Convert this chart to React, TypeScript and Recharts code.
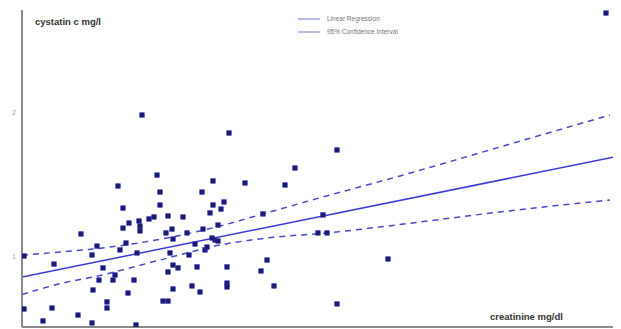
import React from 'react';
import { ComposedChart, Scatter, Line, XAxis, YAxis } from 'recharts';

// creatinine (mg/dl) vs cystatin c (mg/l)
const patients = [
  { x: 0.41, y: 1.007 }, { x: 0.56, y: 0.951 }, { x: 0.41, y: 0.639 }, { x: 0.55, y: 0.646 },
  { x: 0.505, y: 0.556 }, { x: 0.68, y: 0.597 }, { x: 0.75, y: 0.542 }, { x: 0.97, y: 0.528 },
  { x: 0.695, y: 1.16 }, { x: 0.775, y: 1.076 }, { x: 0.75, y: 1.014 }, { x: 0.88, y: 1.493 },
  { x: 0.905, y: 1.34 }, { x: 1.0, y: 1.986 }, { x: 1.075, y: 1.569 }, { x: 1.09, y: 1.451 },
  { x: 1.09, y: 1.361 }, { x: 1.3, y: 1.451 }, { x: 1.355, y: 1.528 }, { x: 1.355, y: 1.361 },
  { x: 1.34, y: 1.306 }, { x: 1.41, y: 1.382 }, { x: 1.395, y: 1.333 }, { x: 0.905, y: 1.201 },
  { x: 0.935, y: 1.236 }, { x: 0.985, y: 1.25 }, { x: 0.99, y: 1.215 }, { x: 0.99, y: 1.181 },
  { x: 1.035, y: 1.264 }, { x: 1.06, y: 1.278 }, { x: 1.13, y: 1.285 }, { x: 1.205, y: 1.278 },
  { x: 1.15, y: 1.194 }, { x: 1.12, y: 1.167 }, { x: 1.155, y: 1.125 }, { x: 0.92, y: 1.097 },
  { x: 0.89, y: 1.049 }, { x: 0.975, y: 1.028 }, { x: 1.14, y: 1.028 }, { x: 1.235, y: 1.014 },
  { x: 1.265, y: 1.09 }, { x: 1.305, y: 1.194 }, { x: 1.315, y: 1.049 }, { x: 1.325, y: 1.069 },
  { x: 1.365, y: 1.118 }, { x: 1.35, y: 1.132 }, { x: 1.38, y: 1.111 }, { x: 1.38, y: 1.222 },
  { x: 0.805, y: 0.924 }, { x: 0.865, y: 0.875 }, { x: 0.855, y: 0.84 }, { x: 0.785, y: 0.84 },
  { x: 0.96, y: 0.84 }, { x: 1.13, y: 0.896 }, { x: 1.155, y: 0.944 }, { x: 1.18, y: 0.924 },
  { x: 1.275, y: 0.931 }, { x: 0.755, y: 0.771 }, { x: 0.93, y: 0.75 }, { x: 1.155, y: 0.778 },
  { x: 1.25, y: 0.799 }, { x: 1.29, y: 0.757 }, { x: 0.825, y: 0.688 }, { x: 0.825, y: 0.646 },
  { x: 1.105, y: 0.694 }, { x: 1.13, y: 0.694 }, { x: 1.435, y: 1.861 }, { x: 1.975, y: 1.743 },
  { x: 1.765, y: 1.618 }, { x: 1.515, y: 1.514 }, { x: 1.715, y: 1.5 }, { x: 1.605, y: 1.299 },
  { x: 1.905, y: 1.292 }, { x: 1.88, y: 1.167 }, { x: 1.925, y: 1.167 }, { x: 1.625, y: 0.979 },
  { x: 2.23, y: 0.986 }, { x: 1.425, y: 0.931 }, { x: 1.595, y: 0.903 }, { x: 1.425, y: 0.819 },
  { x: 1.425, y: 0.792 }, { x: 1.66, y: 0.799 }, { x: 1.975, y: 0.674 }, { x: 3.375, y: 0.722 },
  { x: 3.32, y: 2.694 }, { x: 1.225, y: 1.167 },
];

const regression = [
  { x: 0.4, y: 0.861 },
  { x: 3.36, y: 1.694 },
];

const ciUpper = [
  { x: 0.4, y: 1.012 }, { x: 0.59, y: 1.035 }, { x: 0.84, y: 1.069 }, { x: 1.39, y: 1.215 },
  { x: 1.605, y: 1.299 }, { x: 1.905, y: 1.417 }, { x: 2.29, y: 1.563 }, { x: 2.79, y: 1.764 },
  { x: 3.34, y: 1.986 },
];

const ciLower = [
  { x: 0.4, y: 0.74 }, { x: 0.625, y: 0.826 }, { x: 0.755, y: 0.861 }, { x: 1.09, y: 0.979 },
  { x: 1.39, y: 1.083 }, { x: 1.625, y: 1.132 }, { x: 1.925, y: 1.167 }, { x: 2.39, y: 1.243 },
  { x: 2.79, y: 1.313 }, { x: 3.34, y: 1.396 },
];

const yTicks = [1, 2];

const legendItems = ['Linear Regression', '95% Confidence Interval'];

const SquareDot = (props: any) => {
  const { cx, cy } = props;
  if (cx == null || cy == null) return null;
  return <rect x={cx - 2.25} y={cy - 2.25} width={4.5} height={4.5} fill="#1c1c6a" stroke="#2a2ab8" strokeWidth={0.6} />;
};

export default function App() {
  return (
    <div style={{ position: 'relative', width: 613, height: 321, fontFamily: 'Arial, "Liberation Sans", sans-serif' }}>
      <ComposedChart width={613} height={321} margin={{ top: 2, right: 0, bottom: 0, left: 0 }}>
        <XAxis
          type="number"
          dataKey="x"
          domain={[0.4, 3.395]}
          allowDataOverflow
          tick={false}
          tickLine={false}
          height={2}
          axisLine={{ stroke: '#8a8a8a', strokeWidth: 2 }}
        />
        <YAxis
          type="number"
          dataKey="y"
          domain={[0.514, 2.715]}
          allowDataOverflow
          ticks={yTicks}
          width={14}
          tickSize={0}
          tickMargin={6}
          tick={{ fontSize: 7, fill: '#9a9a9a' }}
          axisLine={{ stroke: '#8a8a8a', strokeWidth: 2 }}
        />
        <Line data={ciUpper} dataKey="y" type="monotone" stroke="#4848c8" strokeWidth={1.5} strokeDasharray="6 5" dot={false} isAnimationActive={false} />
        <Line data={ciLower} dataKey="y" type="monotone" stroke="#4848c8" strokeWidth={1.5} strokeDasharray="6 5" dot={false} isAnimationActive={false} />
        <Line data={regression} dataKey="y" type="linear" stroke="#3a3ad8" strokeWidth={1.5} dot={false} isAnimationActive={false} />
        <Scatter data={patients} dataKey="y" shape={<SquareDot />} isAnimationActive={false} />
      </ComposedChart>
      <div style={{ position: 'absolute', left: 290, top: 4, fontSize: 6.5, color: '#777' }}>
        {legendItems.map((name) => (
          <div key={name} style={{ display: 'flex', alignItems: 'center', height: 13 }}>
            <svg width={22} height={4} style={{ marginRight: 7 }}>
              <line x1={0} y1={2} x2={22} y2={2} stroke="#a4a4e0" strokeWidth={1.5} />
            </svg>
            <span>{name}</span>
          </div>
        ))}
      </div>
      <div style={{ position: 'absolute', left: 27, top: 8, fontSize: 9.5, fontWeight: 'bold', color: '#333' }}>cystatin c mg/l</div>
      <div style={{ position: 'absolute', left: 482, top: 303, fontSize: 9.5, fontWeight: 'bold', color: '#333' }}>creatinine mg/dl</div>
    </div>
  );
}
